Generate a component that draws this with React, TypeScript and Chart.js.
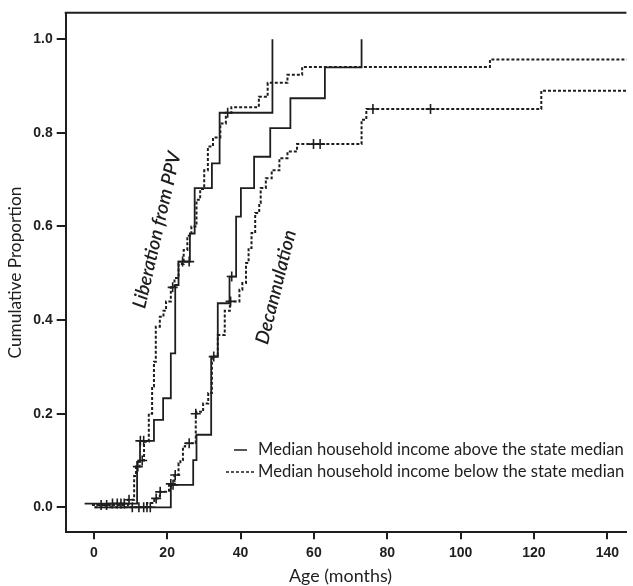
import React, { useEffect, useRef } from 'react';
import { Chart, registerables } from 'chart.js';

Chart.register(...registerables);

// ---------- data ----------
const X_TICKS = [0, 20, 40, 60, 80, 100, 120, 140];
const Y_TICKS = [0, 0.2, 0.4, 0.6, 0.8, 1.0];

const LEGEND_LABELS = [
  'Median household income above the state median',
  'Median household income below the state median',
];
const CURVE_LABELS = ['Liberation from PPV', 'Decannulation'];
const X_TITLE = 'Age (months)';
const Y_TITLE = 'Cumulative Proportion';

// Liberation from PPV, income above median (solid)
const LIB_ABOVE_MONTHS = [-2.5, 11.8, 12.6, 16.4, 18.9, 21.0, 22.2, 23.1, 26.2, 27.5, 32.2, 34.3, 48.7];
const LIB_ABOVE_PROP = [0.008, 0.097, 0.142, 0.187, 0.233, 0.329, 0.475, 0.525, 0.585, 0.682, 0.735, 0.843, 1.0];
const LIB_ABOVE_CENSOR = [5.1, 6.4, 7.4, 8.3, 12.7, 13.6, 24.2, 26.0, 36.5];

// Liberation from PPV, income below median (dotted)
const LIB_BELOW_MONTHS = [-0.5, 9.3, 11.0, 11.5, 12.5, 13.7, 15.0, 15.9, 16.4, 16.9, 18.0, 19.0, 19.7, 21.0, 22.0, 23.1, 24.5, 25.5, 26.6, 28.0, 29.0, 30.1, 31.1, 32.5, 34.5, 36.0, 37.5, 45.0, 47.4, 52.8, 56.8, 108.0, 150.0];
const LIB_BELOW_PROP = [0.005, 0.016, 0.067, 0.087, 0.1, 0.14, 0.2, 0.258, 0.311, 0.386, 0.407, 0.42, 0.44, 0.47, 0.49, 0.52, 0.55, 0.58, 0.6, 0.657, 0.68, 0.72, 0.771, 0.79, 0.82, 0.843, 0.855, 0.877, 0.907, 0.924, 0.941, 0.957, 0.957];
const LIB_BELOW_CENSOR = [2.0, 3.5, 9.6, 12.0, 13.2, 21.5];

// Decannulation, income above median (solid)
const DEC_ABOVE_MONTHS = [0.2, 21.0, 27.1, 28.0, 32.0, 33.8, 37.0, 38.8, 40.1, 43.7, 48.1, 53.6, 63.0, 73.0];
const DEC_ABOVE_PROP = [0, 0.048, 0.101, 0.155, 0.322, 0.436, 0.493, 0.621, 0.682, 0.749, 0.81, 0.874, 0.94, 1.0];
const DEC_ABOVE_CENSOR = [10.5, 12.3, 13.6, 14.5, 15.4, 21.6, 37.6];

// Decannulation, income below median (dotted)
const DEC_BELOW_MONTHS = [0.2, 14.5, 16.5, 18.0, 20.5, 22.0, 23.1, 23.6, 24.3, 24.9, 27.8, 28.0, 29.8, 31.2, 32.2, 33.8, 35.7, 37.1, 39.7, 40.5, 41.5, 42.2, 43.0, 44.0, 45.1, 45.5, 46.9, 48.5, 50.6, 52.8, 55.4, 57.2, 59.0, 73.0, 74.3, 122.0, 150.0];
const DEC_BELOW_PROP = [0, 0.009, 0.019, 0.033, 0.05, 0.069, 0.094, 0.101, 0.13, 0.137, 0.2, 0.204, 0.222, 0.244, 0.322, 0.368, 0.42, 0.44, 0.465, 0.479, 0.522, 0.554, 0.586, 0.629, 0.65, 0.682, 0.703, 0.72, 0.746, 0.76, 0.776, 0.776, 0.776, 0.828, 0.851, 0.89, 0.89];
const DEC_BELOW_CENSOR = [17.0, 18.1, 21.0, 22.2, 26.0, 27.8, 32.7, 37.3, 59.9, 61.7, 76.1, 91.8];

// ---------- helpers ----------
const INK = '#1e1e1e';

function toPoints(xs: number[], ys: number[]) {
  return xs.map((x, i) => ({ x, y: ys[i] }));
}
function stepValue(xs: number[], ys: number[], t: number) {
  let v = ys[0];
  for (let i = 0; i < xs.length; i++) if (xs[i] <= t) v = ys[i];
  return v;
}
function censorPoints(xs: number[], ys: number[], cs: number[]) {
  return cs.map((t) => ({ x: t, y: stepValue(xs, ys, t) }));
}
function fitSize(ctx: CanvasRenderingContext2D, text: string, font: (s: number) => string, target: number) {
  ctx.font = font(20);
  const w = ctx.measureText(text).width;
  return (20 * target) / w;
}

const textPlugin = {
  id: 'textPlugin',
  afterDraw(chart: any) {
    const { ctx, chartArea } = chart;
    ctx.save();
    // top frame line
    ctx.strokeStyle = INK;
    ctx.lineWidth = 2;
    ctx.beginPath();
    ctx.moveTo(chartArea.left - 1, chartArea.top);
    ctx.lineTo(chartArea.right, chartArea.top);
    ctx.stroke();

    ctx.fillStyle = INK;
    // y title
    const yFont = (s: number) => `${s}px Lato`;
    const ySize = fitSize(ctx, Y_TITLE, yFont, 172);
    ctx.save();
    ctx.translate(15, (chartArea.top + chartArea.bottom) / 2);
    ctx.rotate(-Math.PI / 2);
    ctx.font = yFont(ySize);
    ctx.textAlign = 'center';
    ctx.textBaseline = 'middle';
    ctx.fillText(Y_TITLE, 0, 0);
    ctx.restore();

    // x title
    const xSize = fitSize(ctx, X_TITLE, yFont, 103);
    ctx.font = yFont(xSize);
    ctx.textAlign = 'center';
    ctx.textBaseline = 'middle';
    ctx.fillText(X_TITLE, 340.5, 576.5);

    // legend
    const lgFont = (s: number) => `${s}px Lato`;
    const lgSize = fitSize(ctx, LEGEND_LABELS[0], lgFont, 366);
    ctx.font = lgFont(lgSize);
    ctx.textAlign = 'left';
    ctx.textBaseline = 'middle';
    ctx.fillText(LEGEND_LABELS[0], 258, 450);
    ctx.fillText(LEGEND_LABELS[1], 258, 472);
    ctx.lineWidth = 1.5;
    ctx.beginPath();
    ctx.moveTo(234, 450);
    ctx.lineTo(247, 450);
    ctx.stroke();
    ctx.setLineDash([3, 2]);
    ctx.beginPath();
    ctx.moveTo(226, 472);
    ctx.lineTo(254, 472);
    ctx.stroke();
    ctx.setLineDash([]);

    // curve annotations
    const anFont = (s: number) => `italic 600 ${s}px Lato`;
    const s1 = fitSize(ctx, CURVE_LABELS[0], anFont, 160);
    ctx.save();
    ctx.translate(157, 230);
    ctx.rotate((-77 * Math.PI) / 180);
    ctx.font = anFont(s1);
    ctx.textAlign = 'center';
    ctx.textBaseline = 'middle';
    ctx.fillText(CURVE_LABELS[0], 0, 0);
    ctx.restore();

    const s2 = fitSize(ctx, CURVE_LABELS[1], anFont, 117);
    ctx.save();
    ctx.translate(276, 287);
    ctx.rotate((-76 * Math.PI) / 180);
    ctx.font = anFont(s2);
    ctx.textAlign = 'center';
    ctx.textBaseline = 'middle';
    ctx.fillText(CURVE_LABELS[1], 0, 0);
    ctx.restore();

    ctx.restore();
  },
};

export default function App() {
  const ref = useRef<HTMLCanvasElement | null>(null);

  useEffect(() => {
    document.body.style.margin = '0';
    const canvas = ref.current;
    if (!canvas) return;

    const solid = (data: any[]) => ({
      type: 'line',
      data,
      stepped: true,
      borderColor: INK,
      borderWidth: 1.8,
      pointRadius: 0,
      fill: false,
    });
    const dotted = (data: any[]) => ({
      type: 'line',
      data,
      stepped: true,
      borderColor: INK,
      borderWidth: 2,
      borderDash: [3, 2],
      pointRadius: 0,
      fill: false,
    });
    const censor = (data: any[]) => ({
      type: 'line',
      data,
      showLine: false,
      pointStyle: 'cross',
      pointRadius: 5,
      pointBorderWidth: 1.6,
      pointBorderColor: INK,
      pointBackgroundColor: INK,
    });

    const chart = new Chart(canvas, {
      type: 'line',
      data: {
        datasets: [
          solid(toPoints(LIB_ABOVE_MONTHS, LIB_ABOVE_PROP)),
          dotted(toPoints(LIB_BELOW_MONTHS, LIB_BELOW_PROP)),
          solid(toPoints(DEC_ABOVE_MONTHS, DEC_ABOVE_PROP)),
          dotted(toPoints(DEC_BELOW_MONTHS, DEC_BELOW_PROP)),
          censor(censorPoints(LIB_ABOVE_MONTHS, LIB_ABOVE_PROP, LIB_ABOVE_CENSOR)),
          censor(censorPoints(LIB_BELOW_MONTHS, LIB_BELOW_PROP, LIB_BELOW_CENSOR)),
          censor(censorPoints(DEC_ABOVE_MONTHS, DEC_ABOVE_PROP, DEC_ABOVE_CENSOR)),
          censor(censorPoints(DEC_BELOW_MONTHS, DEC_BELOW_PROP, DEC_BELOW_CENSOR)),
        ] as any,
      },
      options: {
        responsive: false,
        animation: false,
        events: [],
        layout: { padding: { top: 12.7, right: 0, left: 0, bottom: 0 } },
        plugins: { legend: { display: false }, tooltip: { enabled: false }, title: { display: false } },
        scales: {
          x: {
            type: 'linear',
            min: -7.66,
            max: 145.2,
            afterBuildTicks: (s: any) => {
              s.ticks = X_TICKS.map((v) => ({ value: v }));
            },
            afterFit: (s: any) => {
              s.height = 53.7;
            },
            ticks: {
              color: INK,
              padding: 5,
              font: { family: 'Liberation Sans', size: 14, weight: 'bold' },
              callback: (v: any) => String(v),
              maxRotation: 0,
            },
            grid: { drawOnChartArea: false, drawTicks: true, tickLength: 7, color: INK, lineWidth: 2 },
            border: { display: true, color: INK, width: 2 },
          },
          y: {
            type: 'linear',
            min: -0.0534,
            max: 1.0568,
            afterBuildTicks: (s: any) => {
              s.ticks = Y_TICKS.map((v) => ({ value: v }));
            },
            afterFit: (s: any) => {
              s.width = 65.7;
            },
            ticks: {
              color: INK,
              padding: 4,
              font: { family: 'Liberation Sans', size: 14, weight: 'bold' },
              callback: (v: any) => Number(v).toFixed(1),
            },
            grid: { drawOnChartArea: false, drawTicks: true, tickLength: 9, color: INK, lineWidth: 2 },
            border: { display: true, color: INK, width: 2 },
          },
        },
      },
      plugins: [textPlugin],
    });
    return () => chart.destroy();
  }, []);

  return (
    <div style={{ width: 633, height: 586 }}>
      <canvas ref={ref} width={633} height={586} style={{ width: 633, height: 586, display: 'block' }} />
    </div>
  );
}
